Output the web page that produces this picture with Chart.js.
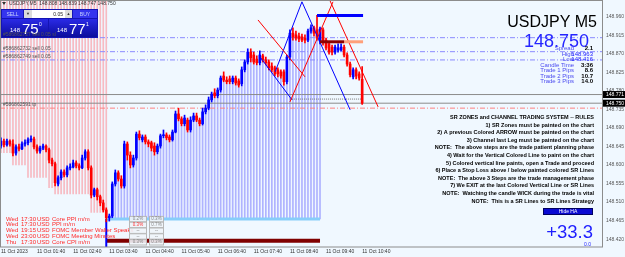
<!DOCTYPE html>
<html>
<head>
<meta charset="utf-8">
<script src="https://cdn.jsdelivr.net/npm/chart.js@4.4.0/dist/chart.umd.min.js"></script>
<style>
  html, body { margin: 0; padding: 0; background: #f0f8ff; }
  canvas { display: block; }
</style>
</head>
<body>
<canvas id="chart" width="625" height="257"></canvas>
<script>
// USDJPY M5 candles, 11 Oct 00:40 .. 10:40 (one per bar index)
const opens = [
  148.646,148.658,148.649,148.658,148.651,148.629,148.644,148.639,148.651,148.654,
  148.661,148.663,148.644,148.634,148.641,148.646,148.637,148.612,148.603,148.554,
  148.569,148.583,148.576,148.593,148.595,148.605,148.598,148.593,148.617,148.632,
  148.593,148.527,148.540,148.523,148.508,148.491,148.472,148.476,148.554,148.581,
  148.566,148.549,148.651,148.624,148.600,148.617,148.675,148.661,148.668,148.656,
  148.654,148.646,148.632,148.646,148.671,148.673,148.668,148.661,148.680,148.724,
  148.712,148.700,148.709,148.685,148.709,148.719,148.709,148.700,148.729,148.738,
  148.758,148.775,148.768,148.782,148.816,148.806,148.809,148.802,148.811,148.804,
  148.797,148.831,148.850,148.874,148.867,148.857,148.848,148.865,148.855,148.850,
  148.840,148.836,148.831,148.826,148.826,148.802,148.862,148.920,148.916,148.913,
  148.911,148.908,148.903,148.925,148.933,148.928,148.901,148.928,148.903,148.894,
  148.886,148.874,148.879,148.879,148.886,148.867,148.845,148.814,148.831,148.821,
  148.808
];
const highs = [
  148.666,148.663,148.663,148.661,148.661,148.649,148.651,148.656,148.661,148.666,
  148.671,148.668,148.649,148.646,148.651,148.649,148.641,148.617,148.607,148.574,
  148.588,148.588,148.598,148.603,148.612,148.610,148.603,148.624,148.637,148.637,
  148.598,148.544,148.544,148.527,148.515,148.496,148.481,148.559,148.588,148.586,
  148.574,148.658,148.656,148.632,148.624,148.680,148.683,148.673,148.673,148.661,
  148.658,148.654,148.651,148.675,148.685,148.678,148.673,148.685,148.731,148.738,
  148.717,148.721,148.714,148.717,148.726,148.726,148.714,148.738,148.746,148.765,
  148.777,148.785,148.787,148.816,148.826,148.814,148.816,148.816,148.816,148.809,
  148.838,148.855,148.882,148.882,148.874,148.865,148.877,148.869,148.862,148.855,
  148.848,148.840,148.836,148.831,148.831,148.867,148.928,148.933,148.925,148.920,
  148.918,148.916,148.930,148.940,148.937,148.963,148.935,148.933,148.908,148.899,
  148.891,148.891,148.894,148.894,148.891,148.872,148.850,148.836,148.836,148.826,
  148.839
];
const lows = [
  148.641,148.644,148.646,148.646,148.622,148.624,148.634,148.637,148.646,148.649,
  148.656,148.639,148.629,148.629,148.637,148.632,148.605,148.598,148.549,148.549,
  148.564,148.571,148.571,148.588,148.593,148.593,148.588,148.591,148.612,148.588,
  148.520,148.523,148.515,148.501,148.486,148.462,148.464,148.472,148.549,148.561,
  148.544,148.544,148.612,148.593,148.595,148.612,148.661,148.656,148.651,148.644,
  148.634,148.624,148.627,148.641,148.666,148.661,148.656,148.658,148.678,148.707,
  148.695,148.695,148.680,148.680,148.705,148.705,148.695,148.697,148.724,148.734,
  148.753,148.763,148.763,148.777,148.802,148.797,148.797,148.797,148.794,148.789,
  148.792,148.826,148.845,148.850,148.845,148.843,148.843,148.850,148.843,148.831,
  148.826,148.816,148.814,148.811,148.794,148.797,148.855,148.903,148.903,148.899,
  148.899,148.896,148.899,148.920,148.913,148.903,148.894,148.891,148.879,148.869,
  148.867,148.869,148.874,148.877,148.862,148.840,148.814,148.809,148.809,148.806,
  148.747
];
const closes = [
  148.658,148.649,148.658,148.651,148.629,148.644,148.639,148.651,148.654,148.661,
  148.663,148.644,148.634,148.641,148.646,148.637,148.612,148.603,148.557,148.569,
  148.583,148.576,148.593,148.595,148.605,148.598,148.593,148.617,148.632,148.593,
  148.527,148.540,148.523,148.508,148.491,148.472,148.476,148.554,148.581,148.566,
  148.549,148.651,148.624,148.600,148.617,148.675,148.666,148.668,148.656,148.651,
  148.641,148.632,148.646,148.671,148.673,148.666,148.661,148.680,148.724,148.712,
  148.700,148.714,148.685,148.709,148.719,148.709,148.700,148.729,148.738,148.758,
  148.772,148.768,148.782,148.811,148.806,148.802,148.802,148.811,148.799,148.794,
  148.831,148.850,148.874,148.860,148.850,148.848,148.867,148.855,148.848,148.836,
  148.831,148.821,148.821,148.816,148.802,148.862,148.920,148.911,148.908,148.906,
  148.903,148.903,148.925,148.933,148.920,148.908,148.930,148.899,148.884,148.874,
  148.874,148.886,148.884,148.886,148.867,148.845,148.819,148.831,148.816,148.811,
  148.750
];

// red zone lines (bars 0..35): bottom end of each line, top is the chart top
const pinkBottoms = [
  148.630,148.630,148.630,148.630,148.600,148.600,148.600,148.600,148.600,148.570,
  148.570,148.570,148.570,148.570,148.570,148.570,148.545,148.545,148.530,148.530,
  148.530,148.530,148.530,148.530,148.530,148.530,148.530,148.530,148.530,148.530,
  148.485,148.485,148.485,148.485,148.485,148.485
];
const blueZoneBars = [35, 106];        // first and last bar of the blue zone
const zoneFloor = 148.469;             // light blue zone base

const bid = 148.750, ask = 148.771;
const dayHigh = 148.963, dayLow = 148.416;
const orderLevels = [148.909, 148.875, 148.855];
const orderNames = ['#586862727 sell 0.05 sl', '#586862732 sell 0.05', '#586862749 sell 0.05'];
const tpLevel = 148.738;
const srLevel = 148.899;
const dottedLevel = 148.760;

// channel lines: [barA, priceA, barB, priceB]
const redTrend = [[85.4,148.952,101.0,148.814],[96.0,148.753,110.3,148.996],[109.3,148.999,125.3,148.741]];
const blueTrend = [[86.1,148.862,96.7,148.758],[91.1,148.826,100.0,148.996],[100.0,148.996,116.0,148.734]];

const timeTickBars = [0,12,24,36,48,60,72,84,96,108,120];
const timeLabels = ['11 Oct 2023','11 Oct 01:40','11 Oct 02:40','11 Oct 03:40','11 Oct 04:40','11 Oct 05:40',
  '11 Oct 06:40','11 Oct 07:40','11 Oct 08:40','11 Oct 09:40','11 Oct 10:40'];
const priceTicks = [148.960,148.915,148.870,148.825,148.780,148.735,148.690,148.645,148.600,148.555,148.510,148.465,148.420];

const events = [
  ['Wed','17:30','USD','Core PPI m/m'],
  ['Wed','17:30','USD','PPI m/m'],
  ['Wed','19:15','USD','FOMC Member Waller Speaks'],
  ['Wed','23:00','USD','FOMC Meeting Minutes'],
  ['Thu','17:30','USD','Core CPI m/m']
];
const forecasts = [['0.2%','0.3%'],['0.3%','0.7%'],['',''],['',''],['0.3%','0.3%']];

const infoRows = [['Spread','2.1'],['High',dayHigh.toFixed(3)],['Low',dayLow.toFixed(3)],
  ['Candle Time','3:36'],['Trade 1 Pips','8.6'],['Trade 2 Pips','10.7'],['Trade 3 Pips','14.0']];
const rules = [
  'SR ZONES and CHANNEL TRADING SYSTEM -- RULES',
  '1) SR Zones must be painted on the chart',
  '2) A previous Colored ARROW must be painted on the chart',
  '3) Channel last Leg must be painted on the chart',
  'NOTE:  The above steps are the trade patient planning phase',
  '4) Wait for the Vertical Colored Line to paint on the chart',
  '5) Colored vertical line paints, open a Trade and proceed',
  '6) Place a Stop Loss above / below painted colored SR Lines',
  'NOTE:  The above 3 Steps are the trade management phase',
  '7) We EXIT at the last Colored Vertical Line or SR Lines',
  'NOTE:  Watching the candle WICK during the trade is vital',
  'NOTE:  This is a SR Lines to SR Lines Strategy'
];
const profit = '+33.3';

const xMin = -0.3, xMax = 200, yMin = 148.401, yMax = 148.998;
const last = closes.length - 1;
const idx = closes.map((_, i) => i);
const candleColor = idx.map(i => closes[i] >= opens[i] ? '#0000ff' : '#ff0000');

function seg(a, b, color, width, dash, order) {
  return { type: 'line', data: [{x: a[0], y: a[1]}, {x: b[0], y: b[1]}], borderColor: color,
    borderWidth: width, borderDash: dash || [], pointRadius: 0, fill: false, order: order };
}

const datasets = [
  { type: 'bar', data: pinkBottoms.map((b, i) => ({x: i, y: [b, yMax]})),
    backgroundColor: 'rgba(255,110,120,0.45)', barThickness: 1, order: 20 },
  { type: 'bar', data: idx.filter(i => i >= blueZoneBars[0] && i <= blueZoneBars[1]).map(i => ({x: i, y: [zoneFloor, lows[i]]})),
    backgroundColor: 'rgba(110,110,255,0.5)', barThickness: 1, order: 19 },
  seg([xMin, ask], [xMax, ask], '#8c8c8c', 1, null, 15),
  seg([xMin, bid], [xMax, bid], '#8c8c8c', 1, null, 15),
  seg([xMin, tpLevel], [xMax, tpLevel], '#ff8080', 1, [5,2,1,2], 15),
  ...orderLevels.map(l => seg([xMin, l], [xMax, l], '#8a8aff', 1, [5,2,1,2], 15)),
  seg([96, dottedLevel], [last, dottedLevel], '#777777', 1, [1,1], 14),
  seg([blueZoneBars[0], zoneFloor], [blueZoneBars[1], zoneFloor], '#87cefa', 3, null, 14),
  seg([blueZoneBars[0], dayLow], [blueZoneBars[1], dayLow], '#800000', 4, null, 14),
  seg([blueZoneBars[0], yMin], [blueZoneBars[0], zoneFloor], '#0000ff', 2, null, 13),
  { type: 'bar', data: idx.map(i => ({x: i, y: [lows[i], highs[i]]})),
    backgroundColor: candleColor, barThickness: 1, order: 5 },
  { type: 'bar', data: idx.map(i => ({x: i, y: [opens[i], closes[i]]})),
    backgroundColor: candleColor, barThickness: 2, minBarLength: 1, order: 4 },
  ...redTrend.map(s => seg([s[0], s[1]], [s[2], s[3]], '#ff0000', 1, null, 3)),
  ...blueTrend.map(s => seg([s[0], s[1]], [s[2], s[3]], '#0000ff', 1, null, 3)),
  seg([105, dayHigh], [last + 0.3, dayHigh], '#0000ff', 3, null, 2),
  seg([106, srLevel], [114, srLevel], '#8b0000', 3, null, 2),
  seg([114, srLevel], [last + 0.3, srLevel], '#ffa07a', 3, null, 2)
];

function txt(ctx, s, x, y, font, color, align, base) {
  ctx.font = font; ctx.fillStyle = color;
  ctx.textAlign = align || 'left'; ctx.textBaseline = base || 'middle';
  ctx.fillText(s, x, y);
}

const overlay = {
  id: 'overlay',
  beforeDraw(chart) {
    const ctx = chart.ctx;
    ctx.save();
    ctx.fillStyle = '#f0f8ff';
    ctx.fillRect(0, 0, chart.width, chart.height);
    ctx.restore();
  },
  afterDraw(chart) {
    const {ctx, chartArea: a, scales: {y}} = chart;
    const F = 'Liberation Sans, Arial, sans-serif';
    ctx.save();
    // plot frame
    ctx.strokeStyle = '#8c8c8c'; ctx.lineWidth = 1;
    ctx.strokeRect(a.left + 0.5, a.top - 0.5, a.right - a.left - 1, a.bottom - a.top + 0.5);

    // header
    ctx.fillStyle = '#333'; ctx.beginPath(); ctx.moveTo(2, 2); ctx.lineTo(6, 2); ctx.lineTo(4, 5); ctx.fill();
    txt(ctx, 'USDJPY,M5  ' + [opens[last], highs[last], lows[last], closes[last]].map(v => v.toFixed(3)).join(' '),
      9, 3.5, '5px ' + F, '#333');

    // one-click trading panel
    ctx.fillStyle = '#1414b4'; ctx.fillRect(1, 9, 97, 29);
    ctx.fillStyle = '#3434ee'; ctx.fillRect(2, 10, 21, 8); ctx.fillRect(73, 10, 24, 8);
    ctx.fillStyle = '#dcdcdc'; ctx.fillRect(24, 10, 8, 8); ctx.fillRect(65, 10, 7, 8);
    ctx.fillStyle = '#ffffff'; ctx.fillRect(32, 10, 33, 8);
    txt(ctx, 'SELL', 12.5, 14.2, '5px ' + F, '#c8d4ff', 'center');
    txt(ctx, 'BUY', 85, 14.2, '5px ' + F, '#c8d4ff', 'center');
    txt(ctx, '▼', 28, 14.2, '4px ' + F, '#333', 'center');
    txt(ctx, '▲', 68.5, 14.2, '4px ' + F, '#333', 'center');
    txt(ctx, '0.05', 63, 14.2, '5px ' + F, '#222', 'right');
    [[bid, 2, 46], [ask, 49, 48]].forEach(([p, x0, w]) => {
      const g = ctx.createLinearGradient(0, 19, 0, 37);
      g.addColorStop(0, '#2a2ae6'); g.addColorStop(1, '#0c0c9c');
      ctx.fillStyle = g; ctx.fillRect(x0, 19, w, 18);
      const s = p.toFixed(3);
      txt(ctx, s.slice(0, 3), x0 + 8, 32, '6px ' + F, '#ffffff', 'left', 'alphabetic');
      txt(ctx, s.slice(4, 6), x0 + 20, 33.5, '15px ' + F, '#ffffff', 'left', 'alphabetic');
      txt(ctx, s.slice(6), x0 + 37, 25.5, '5px ' + F, '#ffffff', 'left', 'alphabetic');
    });

    // order labels
    orderLevels.forEach((l, i) => txt(ctx, orderNames[i], 3, y.getPixelForValue(l) - 3.5, '5px ' + F, '#555'));
    txt(ctx, '#586862591 tp', 3, y.getPixelForValue(tpLevel) - 3.5, '5px ' + F, '#555');

    // price tags on the axis
    [ask, bid].forEach(p => {
      const py = y.getPixelForValue(p);
      ctx.fillStyle = '#000'; ctx.fillRect(a.right, py - 3.5, 22, 7);
      txt(ctx, p.toFixed(3), a.right + 3, py, '5px ' + F, '#fff');
    });

    // info panel
    txt(ctx, 'USDJPY M5', 597, 27, '16px ' + F, '#000', 'right', 'alphabetic');
    txt(ctx, closes[last].toFixed(3), 589, 47, '18px ' + F, '#2525ff', 'right', 'alphabetic');
    infoRows.forEach((r, i) => {
      const ry = 48.5 + i * 5.5;
      txt(ctx, r[0], 574, ry, '6px ' + F, '#4a4af0', 'right');
      txt(ctx, r[1], 593, ry, (i === 1 || i === 2 ? '' : 'bold ') + '6px ' + F, i === 1 || i === 2 ? '#2020ff' : '#000', 'right');
    });

    // rules
    rules.forEach((r, i) => txt(ctx, r, 594, 117.5 + i * 7.6, 'bold 5.5px ' + F, '#000', 'right'));
    ctx.fillStyle = '#0a0ad2'; ctx.fillRect(543, 208, 50, 7);
    ctx.strokeStyle = '#000060'; ctx.strokeRect(543.5, 208.5, 49, 6);
    txt(ctx, 'Hide HA', 568, 211.7, '5px ' + F, '#ffffff', 'center');
    txt(ctx, profit, 593, 238, '18.5px ' + F, '#1e1eff', 'right', 'alphabetic');
    txt(ctx, '0.0', 591, 245, '5px ' + F, '#1e1eff', 'right');

    // news events
    events.forEach((e, i) => {
      const ey = 219 + i * 5.8;
      txt(ctx, e[0], 6, ey, '6px ' + F, '#ff2828');
      txt(ctx, e[1], 21, ey, '6px ' + F, '#ff2828');
      txt(ctx, e[2], 37, ey, '6px ' + F, '#ff2828');
      txt(ctx, e[3], 52, ey, '6px ' + F, '#ff2828');
      [[129, 18], [149, 15]].forEach(([bx, bw], k) => {
        ctx.fillStyle = 'rgba(240,244,250,0.9)'; ctx.fillRect(bx, ey - 2.6, bw, 5.4);
        ctx.strokeStyle = '#b8b8b8'; ctx.strokeRect(bx + 0.5, ey - 2.6, bw - 1, 5.4);
        const t = forecasts[i][k];
        txt(ctx, t || '--', bx + bw / 2, ey, '4.5px ' + F, i === 1 && k === 0 ? '#ff3030' : '#888', 'center');
      });
    });
    ctx.restore();
  }
};

new Chart(document.getElementById('chart'), {
  type: 'bar',
  data: { datasets: datasets },
  plugins: [overlay],
  options: {
    responsive: false,
    devicePixelRatio: 1,
    animation: false,
    events: [],
    layout: { padding: { top: 1, left: 0, right: 0, bottom: 0 } },
    datasets: { bar: { grouped: false, borderWidth: 0 } },
    plugins: { legend: { display: false }, tooltip: { enabled: false }, title: { display: false } },
    scales: {
      x: {
        type: 'linear', min: xMin, max: xMax, offset: false,
        grid: { display: false, drawTicks: false }, border: { display: false },
        ticks: {
          font: { family: 'Liberation Sans', size: 5 }, color: '#333', align: 'start',
          maxRotation: 0, minRotation: 0, autoSkip: false, padding: 2,
          callback: v => { const k = timeTickBars.indexOf(v); return k >= 0 ? timeLabels[k] : ''; }
        },
        afterBuildTicks: ax => { ax.ticks = timeTickBars.map(v => ({ value: v })); },
        afterFit: ax => { ax.height = 10; ax.paddingLeft = 0; ax.paddingRight = 0; }
      },
      y: {
        type: 'linear', position: 'right', min: yMin, max: yMax,
        grid: { display: false, drawTicks: false }, border: { display: false },
        ticks: { font: { family: 'Liberation Sans', size: 5 }, color: '#555', padding: 3, autoSkip: false,
          callback: v => v.toFixed(3) },
        afterBuildTicks: ax => { ax.ticks = priceTicks.map(v => ({ value: v })); },
        afterFit: ax => { ax.width = 22; ax.paddingTop = 0; ax.paddingBottom = 0; }
      }
    }
  }
});
</script>
</body>
</html>
